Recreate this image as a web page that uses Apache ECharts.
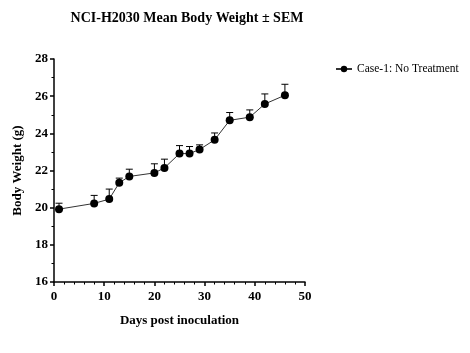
<!DOCTYPE html>
<html>
<head>
<meta charset="utf-8">
<script src="https://cdn.jsdelivr.net/npm/echarts@6/dist/echarts.min.js"></script>
<style>
  html, body { margin: 0; padding: 0; background: #fff; }
  #chart { width: 470px; height: 353px; }
</style>
</head>
<body>
<div id="chart"></div>
<script>
// days post inoculation, mean body weight (g) and SEM
const days = [1, 8, 11, 13, 15, 20, 22, 25, 27, 29, 32, 35, 39, 42, 46]
const meanWeight = [19.92, 20.23, 20.46, 21.34, 21.68, 21.87, 22.14, 22.91, 22.91, 23.13, 23.65, 24.70, 24.87, 25.58, 26.05]
const semWeight = [0.32, 0.43, 0.54, 0.25, 0.39, 0.49, 0.47, 0.43, 0.38, 0.25, 0.37, 0.42, 0.39, 0.54, 0.59]

const FONT = 'Liberation Serif'

const chart = echarts.init(document.getElementById('chart'))

const lineData = days.map((d, i) => [d, meanWeight[i]])
const errData = days.map((d, i) => [d, meanWeight[i], meanWeight[i] + semWeight[i]])

const option = {
  animation: false,
  textStyle: { fontFamily: FONT },
  title: {
    text: 'NCI-H2030 Mean Body Weight ± SEM',
    left: 182,
    textAlign: 'center',
    top: 6,
    textStyle: { fontFamily: FONT, fontSize: 14, fontWeight: 'bold', color: '#000' },
  },
  legend: {
    left: 330,
    top: 58,
    itemWidth: 16,
    itemHeight: 8,
    itemGap: 4,
    textStyle: { fontFamily: FONT, fontSize: 11.5, color: '#000' },
    data: ['Case-1: No Treatment'],
  },
  grid: {
    left: 54,
    right: 165,
    top: 59,
    bottom: 71,
  },
  xAxis: {
    type: 'value',
    min: 0,
    max: 50,
    interval: 10,
    name: 'Days post inoculation',
    nameLocation: 'middle',
    nameGap: 32,
    nameTextStyle: { fontFamily: FONT, fontSize: 13, fontWeight: 'bold', color: '#000' },
    axisLine: { onZero: false, lineStyle: { color: '#000', width: 1.5 } },
    axisTick: { show: true, length: 4, lineStyle: { color: '#000', width: 1.5 } },
    minorTick: { show: true, splitNumber: 5, length: 2.5, lineStyle: { color: '#000', width: 1 } },
    axisLabel: { fontFamily: FONT, fontSize: 13, fontWeight: 'bold', color: '#000', margin: 8 },
    splitLine: { show: false },
  },
  yAxis: {
    type: 'value',
    min: 16,
    max: 28,
    interval: 2,
    name: 'Body Weight (g)',
    nameLocation: 'middle',
    nameGap: 30,
    nameTextStyle: { fontFamily: FONT, fontSize: 13, fontWeight: 'bold', color: '#000' },
    axisLine: { show: true, onZero: false, lineStyle: { color: '#000', width: 1.5 } },
    axisTick: { show: true, length: 4, lineStyle: { color: '#000', width: 1.5 } },
    minorTick: { show: true, splitNumber: 2, length: 2.5, lineStyle: { color: '#000', width: 1 } },
    axisLabel: { fontFamily: FONT, fontSize: 13, fontWeight: 'bold', color: '#000', margin: 6 },
    splitLine: { show: false },
  },
  series: [
    {
      name: 'Case-1: No Treatment',
      type: 'line',
      data: lineData,
      symbol: 'circle',
      symbolSize: 8,
      itemStyle: { color: '#000' },
      lineStyle: { color: '#333', width: 1 },
      z: 3,
    },
    {
      name: 'sem',
      type: 'custom',
      data: errData,
      z: 2,
      renderItem: function (params, api) {
        const x = api.value(0)
        const lo = api.coord([x, api.value(1)])
        const hi = api.coord([x, api.value(2)])
        const half = 3.5
        return {
          type: 'group',
          children: [
            {
              type: 'line',
              shape: { x1: lo[0], y1: lo[1], x2: hi[0], y2: hi[1] },
              style: { stroke: '#000', lineWidth: 1 },
            },
            {
              type: 'line',
              shape: { x1: hi[0] - half, y1: hi[1], x2: hi[0] + half, y2: hi[1] },
              style: { stroke: '#000', lineWidth: 1 },
            },
          ],
        }
      },
    },
  ],
}

chart.setOption(option)
</script>
</body>
</html>
